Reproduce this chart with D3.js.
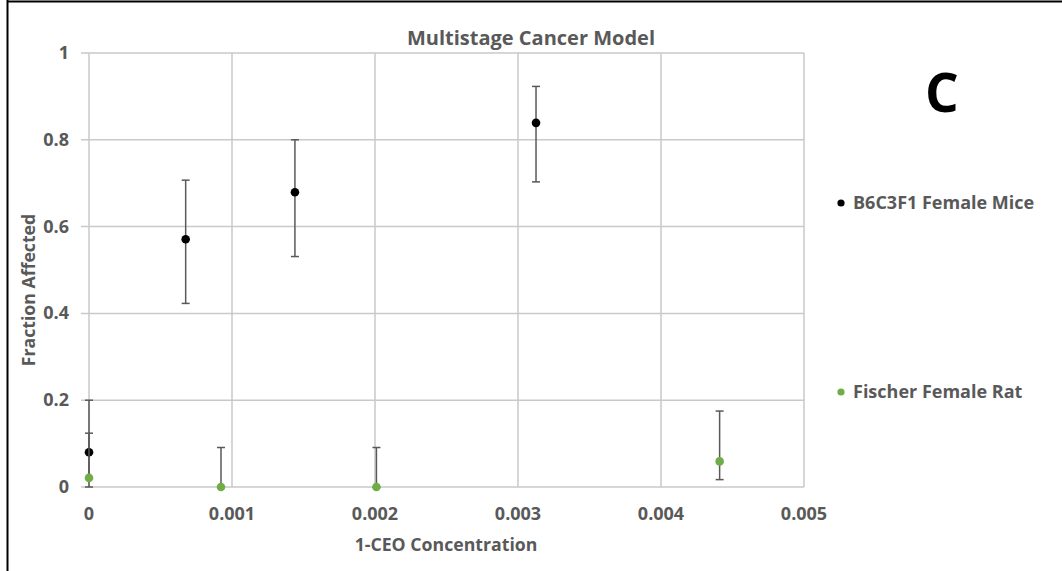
<!DOCTYPE html>
<html>
<head>
<meta charset="utf-8">
<script src="https://cdn.jsdelivr.net/npm/d3@7"></script>
<style>
  html, body { margin: 0; padding: 0; background: #fff; }
  svg text { font-family: "Open Sans", Lato, sans-serif; font-weight: bold; }
</style>
</head>
<body>
<svg id="chart" width="1062" height="571"></svg>
<script>
// values
var miceX  = [0, 0.000676, 0.00144, 0.003126];
var miceY  = [0.08, 0.571, 0.679, 0.839];
var miceHi = [0.2, 0.707, 0.800, 0.923];
var miceLo = [0.0, 0.423, 0.531, 0.703];

var ratX  = [0, 0.000923, 0.00201, 0.00441];
var ratY  = [0.021, 0, 0, 0.059];
var ratHi = [0.124, 0.091, 0.091, 0.175];
var ratLo = [0.021, 0, 0, 0.017];

var xTicks = [0, 0.001, 0.002, 0.003, 0.004, 0.005];
var yTicks = [0, 0.2, 0.4, 0.6, 0.8, 1];
var xTickLabels = ["0", "0.001", "0.002", "0.003", "0.004", "0.005"];
var yTickLabels = ["0", "0.2", "0.4", "0.6", "0.8", "1"];

var seriesNames = ["B6C3F1 Female Mice", "Fischer Female Rat"];
var seriesColors = ["#000000", "#70ad47"];

var svg = d3.select("#chart");
var x = d3.scaleLinear().domain([0, 0.005]).range([89, 804]);
var y = d3.scaleLinear().domain([0, 1]).range([487, 53]);
var grey = "#595959", gridCol = "#c9c9c9";

// frame (only left and top edges show in the picture)
svg.append("line").attr("x1", 7.5).attr("x2", 7.5).attr("y1", 0).attr("y2", 571)
  .attr("stroke", "#000").attr("stroke-width", 2);
svg.append("line").attr("x1", 7).attr("x2", 1062).attr("y1", 1.5).attr("y2", 1.5)
  .attr("stroke", "#000").attr("stroke-width", 2);

// grid
var g = svg.append("g");
g.selectAll(".gy").data(yTicks).enter().append("line")
  .attr("x1", 81).attr("x2", x(0.005))
  .attr("y1", function (d) { return y(d); }).attr("y2", function (d) { return y(d); })
  .attr("stroke", gridCol).attr("stroke-width", 1.5);
g.selectAll(".gx").data(xTicks).enter().append("line")
  .attr("y1", y(0)).attr("y2", y(1))
  .attr("x1", function (d) { return x(d); }).attr("x2", function (d) { return x(d); })
  .attr("stroke", gridCol).attr("stroke-width", 1.5);

// tick labels
svg.selectAll(".yl").data(yTicks).enter().append("text")
  .attr("x", 69).attr("y", function (d) { return y(d) + 6; })
  .attr("text-anchor", "end").attr("font-size", 18).attr("fill", grey)
  .text(function (d, i) { return yTickLabels[i]; });
svg.selectAll(".xl").data(xTicks).enter().append("text")
  .attr("x", function (d) { return x(d); }).attr("y", 520)
  .attr("text-anchor", "middle").attr("font-size", 18).attr("fill", grey)
  .text(function (d, i) { return xTickLabels[i]; });

// titles
svg.append("text").attr("x", 531).attr("y", 45).attr("text-anchor", "middle")
  .attr("font-size", 20).attr("fill", grey).text("Multistage Cancer Model");
svg.append("text").attr("x", 446).attr("y", 551).attr("text-anchor", "middle")
  .attr("font-size", 17.7).attr("fill", grey).text("1-CEO Concentration");
svg.append("text").attr("transform", "translate(35,290) rotate(-90)")
  .attr("text-anchor", "middle").attr("font-size", 17.7).attr("fill", grey)
  .text("Fraction Affected");
svg.append("text").attr("x", 942).attr("y", 112).attr("text-anchor", "middle")
  .attr("font-size", 53).attr("fill", "#000").text("C");

// series
function drawSeries(xs, ys, hi, lo, color) {
  var pts = xs.map(function (v, i) { return { x: v, y: ys[i], hi: hi[i], lo: lo[i] }; });
  var s = svg.append("g");
  var eb = s.selectAll(".eb").data(pts).enter().append("g")
    .attr("stroke", grey).attr("stroke-width", 1.5);
  eb.append("line")
    .attr("x1", function (d) { return x(d.x); }).attr("x2", function (d) { return x(d.x); })
    .attr("y1", function (d) { return y(d.hi); }).attr("y2", function (d) { return y(d.lo); });
  eb.append("line")
    .attr("x1", function (d) { return x(d.x) - 4; }).attr("x2", function (d) { return x(d.x) + 4; })
    .attr("y1", function (d) { return y(d.hi); }).attr("y2", function (d) { return y(d.hi); });
  eb.append("line")
    .attr("x1", function (d) { return x(d.x) - 4; }).attr("x2", function (d) { return x(d.x) + 4; })
    .attr("y1", function (d) { return y(d.lo); }).attr("y2", function (d) { return y(d.lo); });
  s.selectAll("circle").data(pts).enter().append("circle")
    .attr("cx", function (d) { return x(d.x); }).attr("cy", function (d) { return y(d.y); })
    .attr("r", 4.3).attr("fill", color);
}
drawSeries(miceX, miceY, miceHi, miceLo, seriesColors[0]);
drawSeries(ratX, ratY, ratHi, ratLo, seriesColors[1]);

// legend
var legY = [203, 392];
var leg = svg.selectAll(".leg").data(seriesNames).enter().append("g");
leg.append("circle").attr("cx", 841).attr("cy", function (d, i) { return legY[i]; })
  .attr("r", 3.6).attr("fill", function (d, i) { return seriesColors[i]; });
leg.append("text").attr("x", 853).attr("y", function (d, i) { return legY[i] + 6; })
  .attr("font-size", 18).attr("fill", grey).text(function (d) { return d; });
</script>
</body>
</html>
